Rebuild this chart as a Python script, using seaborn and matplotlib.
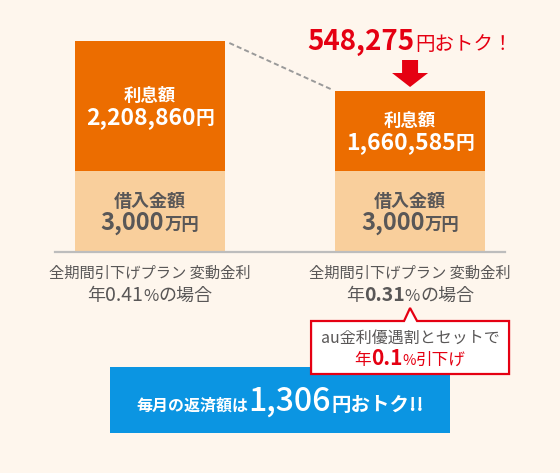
import matplotlib
matplotlib.use("Agg")
import matplotlib.pyplot as plt
import seaborn as sns
from matplotlib.patches import Polygon, Rectangle
from matplotlib.transforms import Affine2D, IdentityTransform

# Data
plans = ["年0.41%", "年0.31%"]
rates = ["0.41", "0.31"]
interest_yen = ["2,208,860", "1,660,585"]
principal_yen = ["3,000", "3,000"]
# bar heights as drawn (illustrative units)
interest_height = [130, 80]
principal_height = [81, 81]
saving_total = "548,275"
saving_monthly = "1,306"
plan_name = "全期間引下げプラン 変動金利"

# Colours
BG = "#fef6ed"
ORANGE = "#ec6d00"
PEACH = "#f9cf9c"
RED = "#e50012"
BLUE = "#0b95e2"
GREY = "#595757"
LINE = "#bdbdbd"
BAR_W = 150 / 260

sns.set_theme(style="white")
plt.rcParams["font.family"] = ["Noto Sans CJK JP", "DejaVu Sans"]

fig = plt.figure(figsize=(5.6, 4.73), dpi=100, facecolor=BG)
renderer = fig.canvas.get_renderer()


def runs(axis, x, y, parts, base, dy=0):
    # draw text pieces side by side on one baseline, centred on x
    texts = []
    for s, size, weight, color in parts:
        texts.append(axis.text(x, y, s, fontsize=size, fontweight=weight, color=color,
                               ha="left", va="baseline", transform=base))
    widths = [t.get_window_extent(renderer).width for t in texts]
    off = -sum(widths) / 2
    for t, w in zip(texts, widths):
        t.set_transform(base + Affine2D().translate(off, dy))
        off += w


# Bars
ax = fig.add_axes([55 / 560, (473 - 252) / 473, 450 / 560, 252 / 473])
ax.set_facecolor("none")
totals = [i + p for i, p in zip(interest_height, principal_height)]
sns.barplot(x=plans, y=totals, color=ORANGE, saturation=1, width=BAR_W, linewidth=0, ax=ax)
sns.barplot(x=plans, y=principal_height, color=PEACH, saturation=1, width=BAR_W, linewidth=0, ax=ax)
ax.set_xlim(-0.365, 1.365)
ax.set_ylim(0, 252)
ax.set_xticks([])
ax.set_yticks([])
ax.set_xlabel("")
ax.set_ylabel("")
sns.despine(ax=ax, left=True)
ax.spines["bottom"].set_color(LINE)
ax.spines["bottom"].set_linewidth(1.6)

# dashed connector between bar tops
x0, y0 = 0 + BAR_W / 2, totals[0]
x1, y1 = 1 - BAR_W / 2, totals[1]
t0, t1 = 0.04, 0.98
ax.plot([x0 + (x1 - x0) * t0, x0 + (x1 - x0) * t1],
        [y0 + (y1 - y0) * t0, y0 + (y1 - y0) * t1],
        color="#9a9a9a", lw=1.4, dashes=(2.6, 1.6), clip_on=False)

for i in range(len(plans)):
    mid_int = principal_height[i] + interest_height[i] / 2
    mid_pri = principal_height[i] / 2
    runs(ax, i, mid_int, [("利息額", 12.5, "bold", "white")], ax.transData, dy=5)
    runs(ax, i, mid_int, [(interest_yen[i], 16.5, "bold", "white"),
                          ("円", 13.5, "bold", "white")], ax.transData, dy=-18)
    runs(ax, i, mid_pri, [("借入金額", 13, "bold", GREY)], ax.transData, dy=5)
    runs(ax, i, mid_pri, [(principal_yen[i], 17, "bold", GREY),
                          ("万円", 12.5, "bold", GREY)], ax.transData, dy=-18)
    # labels under the bars
    runs(ax, i, 0, [(plan_name, 11, "normal", GREY)], ax.transData, dy=-26)
    w = "bold" if i == 1 else "normal"
    runs(ax, i, 0, [("年", 13, "normal", GREY), (rates[i], 14, w, GREY),
                    ("%", 12, "normal", GREY), ("の場合", 13, "normal", GREY)],
         ax.transData, dy=-49)

# saving headline above the right bar
runs(ax, 1, totals[1], [(saving_total, 20, "bold", RED),
                        ("円おトク！", 14, "normal", RED)], ax.transData, dy=41)

# red arrow pointing at the right bar
cx, top = ax.transData.transform((1, totals[1]))
arrow = [(cx - 8, top + 31), (cx + 8, top + 31), (cx + 8, top + 18), (cx + 18, top + 18),
         (cx, top + 4), (cx - 18, top + 18), (cx - 8, top + 18)]
fig.add_artist(Polygon(arrow, closed=True, facecolor=RED, edgecolor="none",
                       transform=IdentityTransform()))

# Overlay in pixel coordinates
cv = fig.add_axes([0, 0, 1, 1])
cv.set_xlim(0, 560)
cv.set_ylim(473, 0)
cv.axis("off")
cv.set_facecolor("none")

cv.add_patch(Rectangle((110, 367), 340, 66, facecolor=BLUE, edgecolor="none", zorder=1))
runs(cv, 280, 411, [("毎月の返済額は", 11.5, "bold", "white"),
                    (saving_monthly, 23, "medium", "white"),
                    ("円おトク!!", 14, "bold", "white")], cv.transData)

bx = cx
callout = [(bx - 99, 321), (bx - 6, 321), (bx, 308), (bx + 7, 321), (bx + 99, 321),
           (bx + 99, 374), (bx - 99, 374)]
cv.add_patch(Polygon(callout, closed=True, facecolor="white", edgecolor=RED,
                     lw=1.6, joinstyle="miter", zorder=2))
runs(cv, bx, 343, [("au金利優遇割とセットで", 11.5, "normal", GREY)], cv.transData)
runs(cv, bx, 365, [("年", 12, "normal", RED), ("0.1", 15, "bold", RED),
                   ("%", 10.5, "normal", RED), ("引下げ", 12, "normal", RED)], cv.transData)

fig.savefig("out.png", dpi=100, facecolor=BG)
